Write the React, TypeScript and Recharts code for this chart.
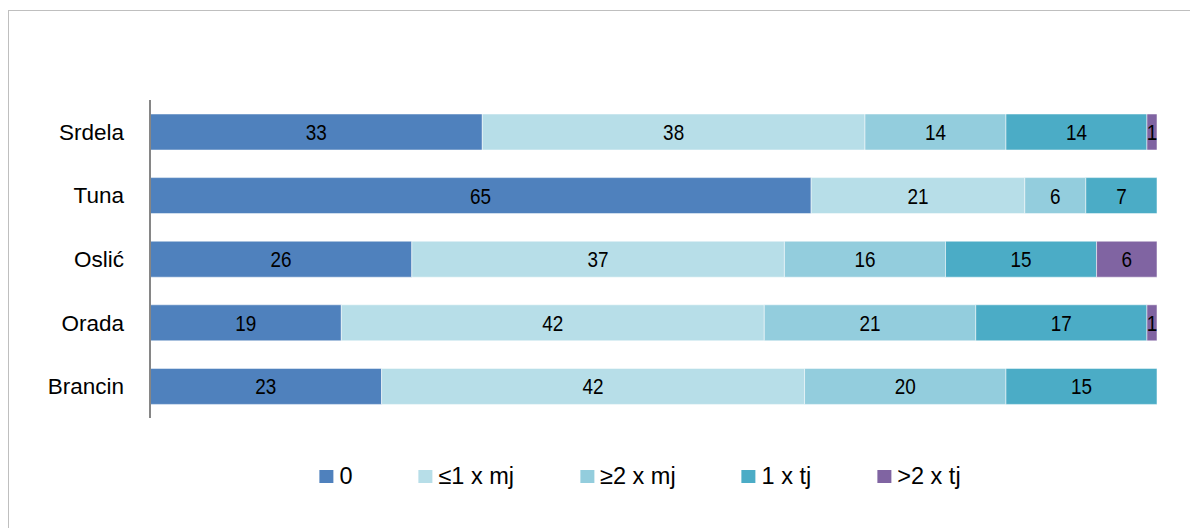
import React from 'react';
import { BarChart, Bar, XAxis, YAxis, LabelList } from 'recharts';

const categories = ['Srdela', 'Tuna', 'Oslić', 'Orada', 'Brancin'];
const seriesNames = ['0', '≤1 x mj', '≥2 x mj', '1 x tj', '>2 x tj'];
const seriesColors = ['#4f81bd', '#b7dee8', '#93cddd', '#4bacc6', '#8064a2'];
const s0 = [33, 65, 26, 19, 23];
const s1 = [38, 21, 37, 42, 42];
const s2 = [14, 6, 16, 21, 20];
const s3 = [14, 7, 15, 17, 15];
const s4 = [1, 0, 6, 1, 0];

const seriesValues = [s0, s1, s2, s3, s4];
const data = categories.map((c, i) => {
  const row: any = { name: c };
  seriesValues.forEach((arr, k) => {
    row['s' + k] = arr[i];
  });
  return row;
});

const FONT = "'Liberation Sans', Arial, sans-serif";

const LegendContent = () => (
  <div
    style={{
      display: 'flex',
      alignItems: 'center',
      fontFamily: FONT,
      fontSize: 23.5,
      color: '#000',
      whiteSpace: 'nowrap',
    }}
  >
    {seriesNames.map((n, i) => (
      <div key={n} style={{ display: 'flex', alignItems: 'center', marginRight: i < seriesNames.length - 1 ? 66 : 0 }}>
        <span style={{ width: 14, height: 13, background: seriesColors[i], display: 'inline-block', marginRight: 6 }} />
        <span>{n}</span>
      </div>
    ))}
  </div>
);

const renderLabel = (props: any) => {
  const { x, y, width, height, value } = props;
  if (!value) return null;
  const cx = Number(x) + Number(width) / 2;
  const cy = Number(y) + Number(height) / 2;
  return (
    <text
      transform={`translate(${cx},${cy}) scale(0.86,1)`}
      x={0}
      y={0}
      textAnchor="middle"
      dominantBaseline="central"
      fontFamily={FONT}
      fontSize={22}
      fill="#000"
    >
      {value}
    </text>
  );
};

export default function App() {
  return (
    <div
      style={{
        marginTop: 2,
        width: 1190,
        height: 518,
        borderTop: '1px solid #bfbfbf',
        borderLeft: '1px solid #bfbfbf',
        boxSizing: 'border-box',
        position: 'relative',
        overflow: 'hidden',
      }}
    >
      <div style={{ position: 'relative' }}>
        <BarChart
          width={1189}
          height={517}
          data={data}
          layout="vertical"
          stackOffset="expand"
          margin={{ top: 89, right: 41, bottom: 110, left: 0 }}
          barSize={36}
        >
          <XAxis type="number" domain={[0, 1]} hide />
          <YAxis
            type="category"
            dataKey="name"
            width={141}
            axisLine={{ stroke: '#868686', strokeWidth: 2 }}
            tickLine={false}
            tickSize={0}
            tickMargin={26}
            tick={{ fontFamily: FONT, fontSize: 22.5, fill: '#000' }}
          />
          {seriesNames.map((n, i) => (
            <Bar
              key={n}
              dataKey={'s' + i}
              name={n}
              stackId="a"
              fill={seriesColors[i]}
              stroke="#ffffff"
              strokeOpacity={0.5}
              strokeWidth={1}
              isAnimationActive={false}
            >
              <LabelList dataKey={'s' + i} content={renderLabel} />
            </Bar>
          ))}
        </BarChart>
        <div style={{ position: 'absolute', left: 631, top: 452, transform: 'translateX(-50%)' }}>
          <LegendContent />
        </div>
      </div>
    </div>
  );
}
